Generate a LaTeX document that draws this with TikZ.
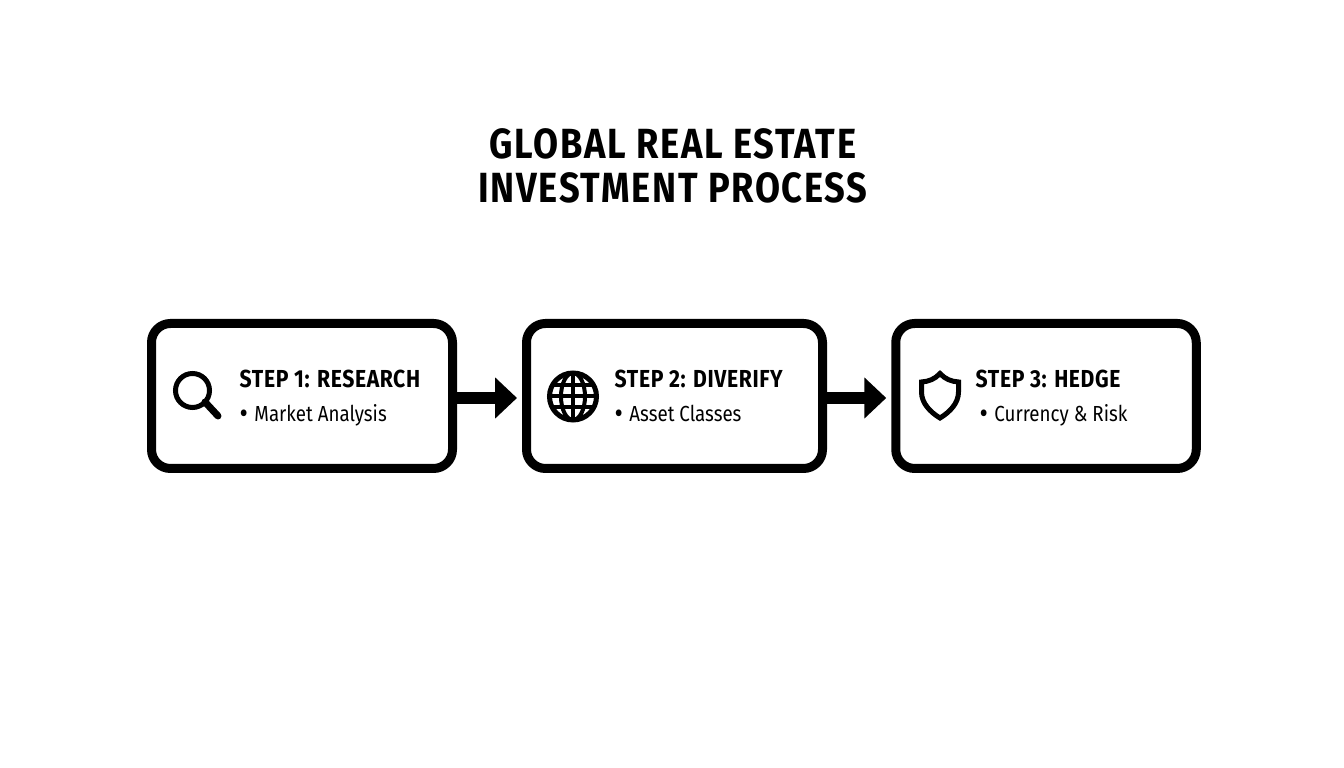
\documentclass[tikz,border=0pt]{standalone}
\usepackage{fontspec}
\setmainfont{Fira Sans}
\newfontfamily\titlefont[FakeStretch=0.86,LetterSpace=4]{Fira Sans}
\newfontfamily\headfont[FakeStretch=0.86,LetterSpace=2.5]{Fira Sans}
\newfontfamily\itemfont[FakeStretch=0.86]{Fira Sans}
\newcommand{\itemdot}{\makebox[4.2pt][l]{\raisebox{-0.3pt}{\fontsize{8.5}{8.5}\selectfont\textbullet}}}
\usetikzlibrary{arrows.meta}
\tikzset{
    stepbox/.style={draw=black, line width=0.09cm, rounded corners=0.19cm, minimum width=3.01cm, minimum height=1.45cm, fill=white, inner sep=0pt},
    flowarrow/.style={-{Triangle[length=0.22cm,width=0.40cm]}, line width=0.12cm, shorten >=0.05cm},
    steptitle/.style={anchor=base west, inner sep=0pt, font=\headfont\bfseries\fontsize{7}{8}\selectfont},
    stepitem/.style={anchor=base west, inner sep=0pt, font=\itemfont\fontsize{6.2}{7}\selectfont},
    iconline/.style={draw=black, line width=0.05cm},
    globeline/.style={draw=black, line width=0.04cm}
}
\begin{document}
\begin{tikzpicture}
    \useasboundingbox (0,0) rectangle (13.44,7.68);
    % Title
    \node[align=center, inner sep=0pt, font=\titlefont\bfseries\fontsize{12}{12.5}\selectfont] (title) at (6.73,6.02) {GLOBAL REAL ESTATE\\INVESTMENT PROCESS};

    % Boxes
    \node[stepbox] (research) at (3.02,3.72) {};
    \node[stepbox, minimum width=2.96cm] (diversify) at (6.745,3.72) {};
    \node[stepbox, minimum width=3.005cm] (hedge) at (10.46,3.72) {};

    % Arrows
    \draw[flowarrow] ([yshift=-0.02cm]research.east) -- ([yshift=-0.02cm]diversify.west);
    \draw[flowarrow] ([yshift=-0.02cm]diversify.east) -- ([yshift=-0.02cm]hedge.west);

    % Step 1
    \node[steptitle] (researchtitle) at (2.39,3.80) {STEP 1: RESEARCH};
    \node[stepitem] (researchitem) at (2.39,3.46) {\itemdot Market Analysis};
    \draw[iconline] (1.925,3.775) circle (0.17);
    \draw[iconline, line width=0.07cm, line cap=round] (2.05,3.66) -- (2.18,3.52);

    % Step 2
    \node[steptitle] (diversifytitle) at (6.14,3.80) {STEP 2: DIVERIFY};
    \node[stepitem] (diversifyitem) at (6.14,3.46) {\itemdot Asset Classes};
    \begin{scope}
        \clip (5.73,3.715) circle (0.24);
        \draw[globeline] (5.73,3.48) -- (5.73,3.95);
        \draw[globeline] (5.73,3.715) ellipse (0.12 and 0.235);
        \draw[globeline] (5.49,3.715) -- (5.97,3.715);
        \draw[globeline] (5.49,3.825) -- (5.97,3.825);
        \draw[globeline] (5.49,3.605) -- (5.97,3.605);
    \end{scope}
    \draw[iconline] (5.73,3.715) circle (0.235);

    % Step 3
    \node[steptitle] (hedgetitle) at (9.75,3.80) {STEP 3: HEDGE};
    \node[stepitem] (hedgeitem) at (9.79,3.46) {\itemdot Currency \& Risk};
    \draw[iconline, line join=miter] (9.40,3.945) .. controls (9.35,3.89) and (9.29,3.865) .. (9.215,3.86)
        -- (9.215,3.76) .. controls (9.215,3.65) and (9.30,3.56) .. (9.40,3.50)
        .. controls (9.50,3.56) and (9.585,3.65) .. (9.585,3.76) -- (9.585,3.86)
        .. controls (9.51,3.865) and (9.45,3.89) .. cycle;
\end{tikzpicture}
\end{document}
